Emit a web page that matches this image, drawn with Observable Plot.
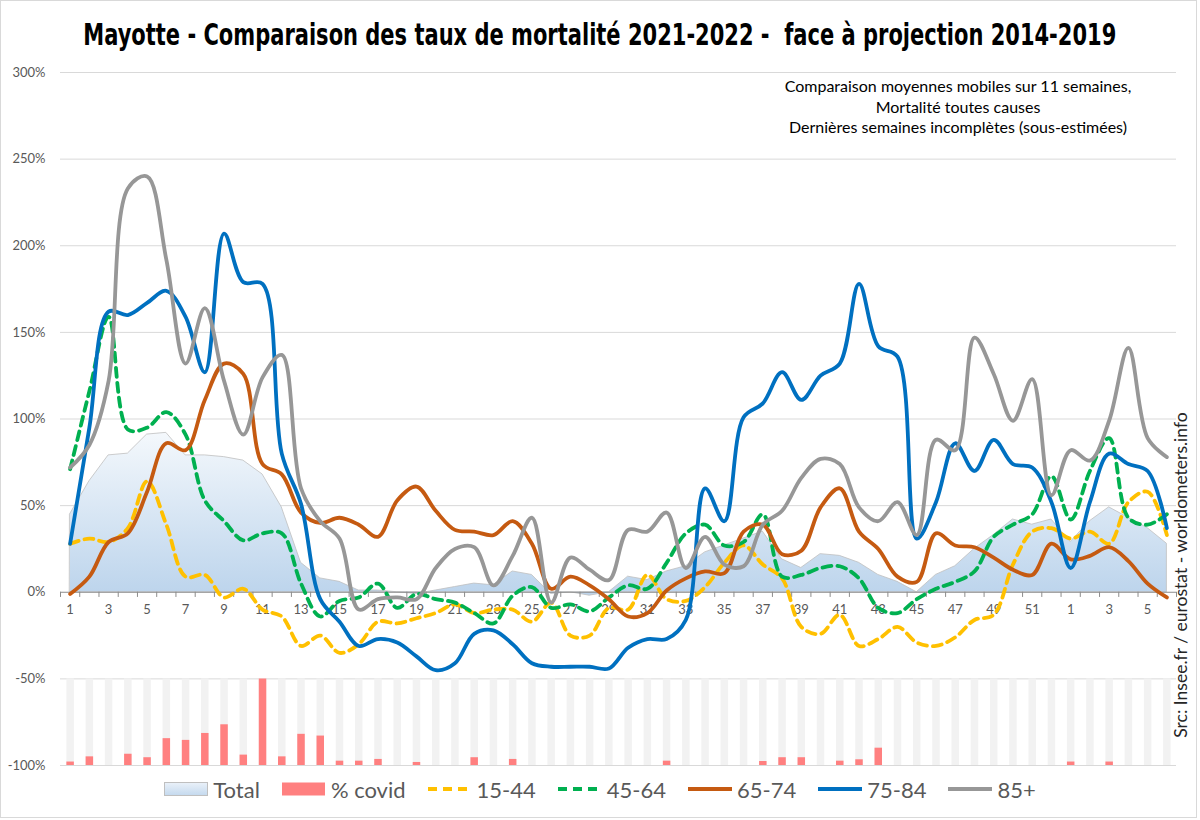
<!DOCTYPE html>
<html><head><meta charset="utf-8">
<script src="https://cdn.jsdelivr.net/npm/d3@7"></script>
<script src="https://cdn.jsdelivr.net/npm/@observablehq/plot@0.6"></script>
<style>
body{margin:0;background:#fff;}
#chart{position:relative;width:1200px;height:820px;overflow:hidden;font-family:Lato, "Noto Sans", sans-serif;background:#fff;}
#frame{position:absolute;left:0;top:0;width:1197px;height:818px;border:1px solid #d9d9d9;box-sizing:border-box;pointer-events:none;}
#title{position:absolute;left:0;top:4px;width:1200px;height:60px;display:flex;align-items:center;justify-content:center;}
#title span{font-family:"DejaVu Sans Condensed","DejaVu Sans",sans-serif;font-weight:bold;font-size:31px;white-space:nowrap;display:inline-block;transform-origin:center;color:#000;}
#plot{position:absolute;left:0;top:60px;}
#note{position:absolute;left:758px;width:400px;top:76px;text-align:center;font-size:16px;line-height:20.5px;color:#000;}
#src{position:absolute;left:1180px;top:575px;transform:translate(-50%,-50%) rotate(-90deg);white-space:nowrap;font-size:17.5px;color:#262626;}
#legend{position:absolute;left:0;top:771px;width:1200px;height:36px;display:flex;justify-content:center;align-items:center;font-size:22px;color:#595959;}
#legend .item{display:flex;align-items:center;margin:0 11px;}
#legend svg{margin-right:5px;}
</style>
</head><body>
<div id="chart">
  <div id="title"><span>Mayotte - Comparaison des taux de mortalité 2021-2022 -&nbsp; face à projection 2014-2019</span></div>
  <div id="plot"></div>
  <div id="note">Comparaison moyennes mobiles sur 11 semaines,<br>Mortalité toutes causes<br>Dernières semaines incomplètes (sous-estimées)</div>
  <div id="src">Src: Insee.fr / eurostat - worldometers.info</div>
  <div id="legend"></div>
  <div id="frame"></div>
</div>
<script>
// Week labels (2021 weeks 1-52, then 2022 weeks 1-6)
const weekLabels = [1,2,3,4,5,6,7,8,9,10,11,12,13,14,15,16,17,18,19,20,21,22,23,24,25,26,27,28,29,30,31,32,33,34,35,36,37,38,39,40,41,42,43,44,45,46,47,48,49,50,51,52,1,2,3,4,5,6];
const yTicks = [-100,-50,0,50,100,150,200,250,300];

// Excess mortality vs projection (%)
const total  = [45,64,79,80,91,92,79,79,78,76,68,49,17,8,6,1,1,0,-1,1,3,5,4,12,10,-1,0,-2,0,9,7,12,15,23,27,31,35,19,14,22,21,17,10,6,0,10,15,25,33,42,39,42,29,41,49,43,37,28];
const covid  = [4,10,0,13,9,31,29,37,47,12,100,10,36,34,5,5,7,0,3.5,0,0,9,0,7,0,0,0,0,0,0,0,5,0,0,0,0,4.6,9,9,0,5,6.6,20,0,0,0,0,0,0,0,0,0,4,0,4,0,0,0];
const s1544  = [28,31,29,37,64,39,9,10,-3,2,-10,-14,-31,-25,-35,-30,-17,-18,-15,-12,-7,-12,-10,-10,-17,-6,-25,-25,-9,-10,10,-4,-5,3,17,27,16,8,-20,-24,-13,-31,-27,-20,-29,-31,-26,-16,-13,16,35,37,31,35,28,52,58,33];
const s4564  = [71,116,159,94,95,104,91,53,41,30,34,34,5,-14,-5,-3,5,-9,-1,-4,-6,-12,-18,-2,3,-9,-7,-11,-3,4,2,17,34,39,27,29,45,9,10,14,15,8,-9,-12,-4,2,6,12,32,39,45,67,42,70,89,43,39,45];
const s6574  = [-1,9,29,34,58,86,82,111,132,126,74,68,46,40,43,39,32,53,61,47,36,35,33,41,28,2,9,4,-4,-14,-12,1,8,12,11,35,39,22,24,49,60,35,25,9,6,34,27,26,20,13,10,28,19,21,26,18,5,-3];
const s7584  = [28,95,162,160,167,174,159,127,207,179,178,80,51,-4,-17,-31,-27,-29,-37,-45,-41,-24,-22,-30,-41,-43,-43,-43,-44,-32,-27,-27,-16,60,41,101,109,127,111,125,132,178,142,136,31,52,86,70,88,74,72,52,14,52,80,74,70,37];
const s85    = [72,85,122,233,240,192,132,164,122,91,124,137,60,41,31,-10,-4,-3,-4,14,25,26,4,21,43,-6,20,13,7,36,35,46,14,32,16,15,39,47,66,77,74,49,41,52,33,88,82,147,126,99,123,56,82,76,99,141,89,78];

const seriesNames  = ["15-44","45-64","65-74","75-84","85+"];
const seriesValues = [s1544, s4564, s6574, s7584, s85];
const seriesColors = ["#FFC000","#00B050","#C55A11","#0070C0","#979797"];
const seriesDash   = ["9,6","9,6",null,null,null];

const idx = weekLabels.map((_, i) => i + 1);
const boundaries = [0, ...idx].map(i => i + 0.5);

const gradient = () => {
  const defs = d3.create("svg:defs");
  const g = defs.append("linearGradient").attr("id","totalGrad").attr("x1",0).attr("y1",0).attr("x2",0).attr("y2",1);
  g.append("stop").attr("offset","0%").attr("stop-color","#f4f8fc");
  g.append("stop").attr("offset","100%").attr("stop-color","#bcd4ec");
  return defs.node();
};

const lineMarks = seriesValues.map((vals, k) => Plot.lineY(vals, {
  x: (d, i) => i + 1, y: d => d,
  stroke: seriesColors[k], strokeWidth: 3.8,
  strokeDasharray: seriesDash[k] || undefined,
  curve: "catmull-rom", strokeLinejoin: "round"
}));

const chart = Plot.plot({
  width: 1200, height: 722,
  marginLeft: 60, marginRight: 24, marginTop: 12, marginBottom: 17,
  style: {fontFamily: "Lato, 'Noto Sans', sans-serif", fontSize: "13px", color: "#595959", background: "transparent"},
  x: {domain: [0.5, 58.5], axis: null},
  y: {domain: [-100, 300], axis: null},
  marks: [
    gradient,
    Plot.gridY(yTicks.filter(t => t !== 0), {stroke: "#d9d9d9", strokeOpacity: 1}),
    Plot.ruleX(idx, {x: d => d, y1: -100, y2: -50, stroke: "#f2f2f2", strokeWidth: 7.5}),
    Plot.ruleX(idx.filter(i => covid[i-1] > 0), {x: d => d, y1: -100, y2: i => -100 + covid[i-1] / 2, stroke: "#FF8080", strokeWidth: 7.5}),
    Plot.areaY(total, {x: (d, i) => i + 1, y: d => d, fill: "url(#totalGrad)", stroke: "#bfbfbf", strokeWidth: 0.8}),
    Plot.ruleY([0], {stroke: "#8c8c8c", strokeWidth: 1}),
    Plot.ruleX(boundaries, {x: d => d, y1: 0, y2: -3, stroke: "#8c8c8c"}),
    Plot.text(idx.filter(i => i % 2 === 1), {x: d => d, y: 0, text: i => String(weekLabels[i-1]), dy: 18, fill: "#595959", fontSize: 13}),
    Plot.axisY(yTicks, {tickFormat: d => d + "%", tickSize: 0, tickPadding: 15, fontSize: 13}),
    ...lineMarks
  ]
});
document.getElementById("plot").appendChild(chart);

// Title fit
const ts = document.querySelector("#title span");
const tw = ts.getBoundingClientRect().width;
ts.style.transform = `scaleX(${1033 / tw})`;

// Legend
const legend = d3.select("#legend");
const addItem = (label, draw) => {
  const it = legend.append("div").attr("class","item");
  const sv = it.append("svg").attr("width",44).attr("height",16);
  draw(sv);
  it.append("span").text(label);
};
addItem("Total", sv => {
  const g = sv.append("defs").append("linearGradient").attr("id","legGrad").attr("x1",0).attr("y1",0).attr("x2",0).attr("y2",1);
  g.append("stop").attr("offset","0%").attr("stop-color","#eaf1f9");
  g.append("stop").attr("offset","100%").attr("stop-color","#c4d9ee");
  sv.append("rect").attr("x",0.5).attr("y",1.5).attr("width",43).attr("height",13).attr("fill","url(#legGrad)").attr("stroke","#bfbfbf");
});
addItem("% covid", sv => sv.append("rect").attr("x",0).attr("y",1.5).attr("width",43).attr("height",13).attr("fill","#FF8080"));
seriesNames.forEach((n, k) => addItem(n, sv => sv.append("line").attr("x1",0).attr("x2",44).attr("y1",8).attr("y2",8)
  .attr("stroke", seriesColors[k]).attr("stroke-width",4).attr("stroke-dasharray", seriesDash[k])));
</script>
</body></html>
